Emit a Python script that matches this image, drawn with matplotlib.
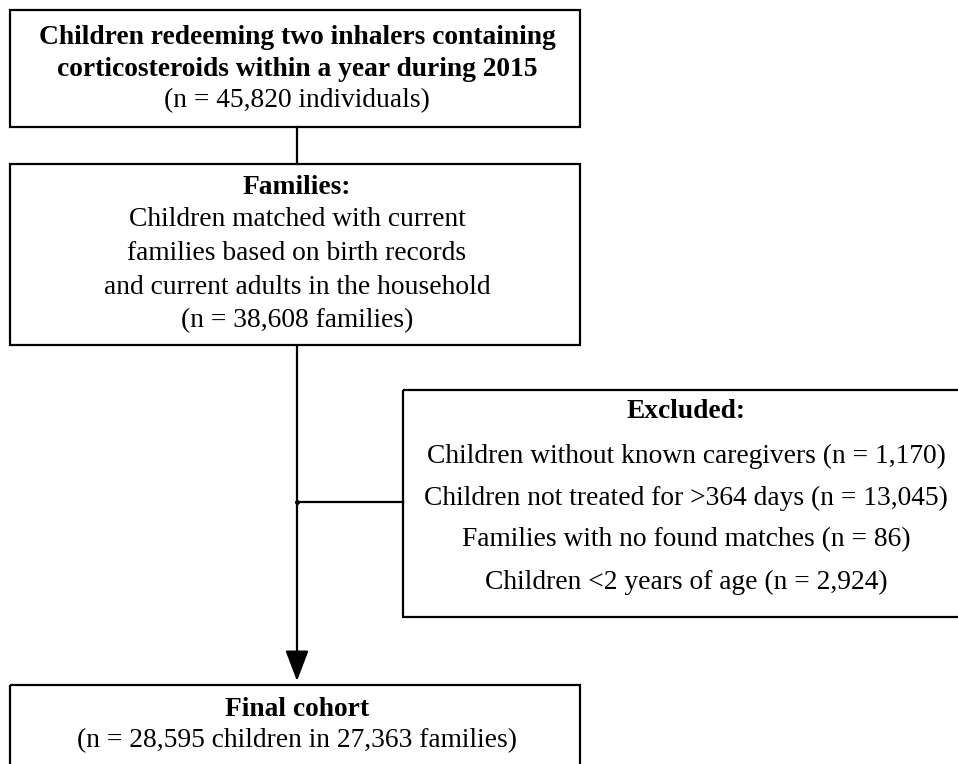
import matplotlib
matplotlib.use("Agg")
import matplotlib.pyplot as plt
from matplotlib.patches import Rectangle

# counts shown in the flowchart
n_children = 45820
n_families = 38608
excl_labels = ["Children without known caregivers",
               "Children not treated for >364 days",
               "Families with no found matches",
               "Children <2 years of age"]
excl_counts = [1170, 13045, 86, 2924]
final_children = 28595
final_families = 27363

plt.rcParams["font.family"] = ["Liberation Serif", "DejaVu Serif"]
FS = 19.8
LW = 1.6

fig = plt.figure(figsize=(9.58, 7.64), dpi=100)
ax = fig.add_axes([0, 0, 1, 1])
ax.set_xlim(0, 958)
ax.set_ylim(764, 0)
ax.axis("off")


def box(x0, y0, x1, y1):
    ax.add_patch(Rectangle((x0, y0), x1 - x0, y1 - y0, fill=False,
                           ec="black", lw=LW, clip_on=True))


def txt(x, y, s, bold=False):
    ax.text(x, y, s, ha="center", va="center", fontsize=FS,
            fontweight="bold" if bold else "normal")


cx = 297

# box 1
box(10, 10, 580, 127)
txt(cx, 37, "Children redeeming two inhalers containing", bold=True)
txt(cx, 70, "corticosteroids within a year during 2015", bold=True)
txt(cx, 101, f"(n = {n_children:,} individuals)")

ax.plot([cx, cx], [127, 164], color="black", lw=LW)

# box 2
box(10, 164, 580, 345)
txt(cx, 187, "Families:", bold=True)
for i, s in enumerate(["Children matched with current",
                       "families based on birth records",
                       "and current adults in the household",
                       f"(n = {n_families:,} families)"]):
    txt(cx, 220 + 33.5 * i, s)

# main arrow and branch
ax.annotate("", xy=(cx, 681), xytext=(cx, 345),
            arrowprops=dict(arrowstyle="-|>,head_length=0.42,head_width=0.16",
                            mutation_scale=45, lw=LW, color="black",
                            shrinkA=0, shrinkB=0))
ax.plot([cx, 403], [502, 502], color="black", lw=LW)
ax.plot([cx], [502], "o", color="black", ms=2.5)

# excluded box
box(403, 390, 962, 617)
ex_cx = 686
txt(ex_cx, 412, "Excluded:", bold=True)
for i, (lab, c) in enumerate(zip(excl_labels, excl_counts)):
    txt(ex_cx, 456 + 42 * i, f"{lab} (n = {c:,})")

# final box
box(10, 685, 580, 775)
txt(cx, 710, "Final cohort", bold=True)
txt(cx, 741, f"(n = {final_children:,} children in {final_families:,} families)")

fig.savefig("out.png", dpi=100)
